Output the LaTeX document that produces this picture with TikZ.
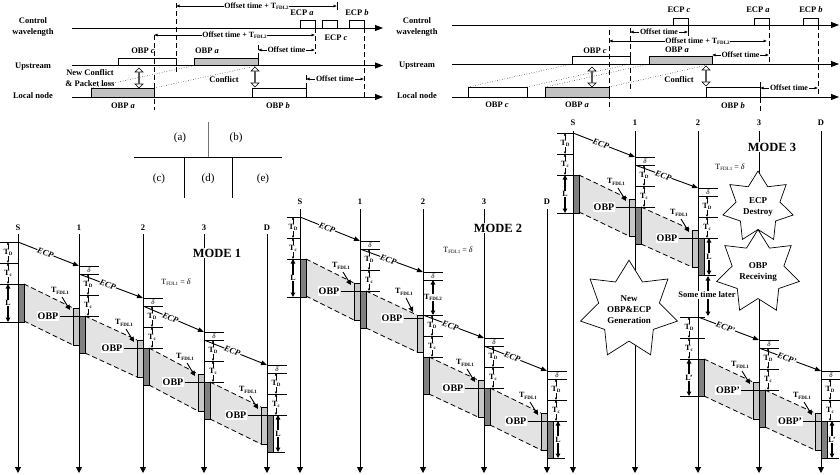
\documentclass[tikz,border=0pt]{standalone}
\usepackage{fontspec}
\setmainfont{Liberation Serif}
\usetikzlibrary{arrows.meta,shapes.geometric,shapes.arrows}
\definecolor{dkg}{gray}{0.5}
\definecolor{ltg}{gray}{0.78}
\definecolor{shdc}{gray}{0.89}
\definecolor{obpg}{gray}{0.76}
\definecolor{layg}{gray}{0.45}
\newcommand\fs[1]{\fontsize{#1}{#1}\selectfont}
\newcommand\Tsub[1]{T\raisebox{-0.35ex}{\fontsize{5}{5}\selectfont #1}}
\tikzset{
  lw/.style={line width=0.8pt},
  ax/.style={line width=0.9pt,-{Triangle[length=8pt,width=6pt]}},
  colar/.style={line width=0.9pt,-{Triangle[length=6pt,width=6pt]}},
  dsh/.style={line width=0.8pt,dash pattern=on 5pt off 3pt},
  tk/.style={line width=0.8pt},
  sml/.style={line width=0.5pt,{Latex[length=2.5pt,width=2.5pt]}-{Latex[length=2.5pt,width=2.5pt]}},
  bigar/.style={line width=1.2pt,{Triangle[length=4.5pt,width=4.5pt]}-{Triangle[length=4.5pt,width=4.5pt]}},
  onear/.style={line width=1.2pt,-{Triangle[length=4.5pt,width=4.5pt]}},
  slab/.style={fill=white,inner sep=0.4pt,font=\bfseries\fs{8}},
  dlab/.style={inner sep=0pt,font=\itshape\fs{7}},
  ecpar/.style={line width=0.9pt,-{Triangle[length=6pt,width=4.5pt]}},
  ecplab/.style={fill=white,inner sep=0.3pt,font=\bfseries\itshape\fs{8.5}},
  darkr/.style={fill=dkg,draw,line width=0.6pt},
  lightr/.style={fill=ltg,draw,line width=0.6pt},
  obplab/.style={fill=white,inner sep=1.2pt,font=\bfseries\fs{10}},
  fdllab/.style={inner sep=0.5pt,font=\bfseries\fs{8}},
  fdlar/.style={line width=0.9pt,-{Triangle[length=5pt,width=5pt]}},
  collab/.style={font=\bfseries\fs{8.5}},
  modelab/.style={fill=white,inner sep=1pt,font=\bfseries\fs{12.5}},
  eqlab/.style={inner sep=0.5pt,font=\fs{8}},
  dbl/.style={double arrow,shape border rotate=90,draw,fill=white,line width=0.6pt,minimum height=20pt,minimum width=8pt,double arrow head extend=1.5pt,inner sep=0pt},
  starn/.style={star,star points=7,star point ratio=1.6,draw,fill=white,line width=0.7pt,inner sep=0pt,align=center,font=\bfseries\fontsize{9}{11}\selectfont},
  toplab/.style={font=\bfseries\fontsize{8.5}{11}\selectfont,align=center,inner sep=0pt},
  offlab/.style={fill=white,inner sep=0.8pt,font=\bfseries\fs{8}},
  offar/.style={line width=0.6pt,{Latex[length=3.5pt,width=3pt]}-{Latex[length=3.5pt,width=3pt]}},
  layl/.style={font=\fs{11}},
}
\newcommand\tspan[4]{\draw[sml] ({#1},{#2}) -- ({#1},{#3}); \node[slab] at ({#1},{(#2+#3)/2}) {#4};}
\newcommand\lspan[4]{\draw[bigar] ({#1},{#2}) -- ({#1},{#3}); \node[slab] at ({#1},{(#2+#3)/2}) {#4};}
\newcommand\Scol[4]{%
  \foreach \dy in {0,21,42,80} {\draw[tk] ({#3},{#2+\dy}) -- ({#1},{#2+\dy});}
  \tspan{#4}{#2}{#2+21}{\Tsub{D}}
  \tspan{#4}{#2+21}{#2+42}{\Tsub{c}}
  \lspan{#4}{#2+42}{#2+80}{L}
  \filldraw[darkr] ({#1},{#2+42}) rectangle ({#1+6},{#2+80});
}
\newcommand\stdcol[3]{%
  \foreach \dy in {0,8,29} {\draw[tk] ({#1},{#2+\dy}) -- ({#1+20},{#2+\dy});}
  \node[dlab] at ({#1+10},{#2+4}) {δ};
  \tspan{#1+9}{#2+8}{#2+29}{\Tsub{D}}
  \tspan{#1+9}{#2+29}{#2+50}{\Tsub{c}}
  \filldraw[lightr] ({#1-6},{#2+42}) rectangle ({#1},{#2+79});
  \filldraw[darkr] ({#1},{#2+50}) rectangle ({#1+6},{#2+87});
  \node[obplab] (o) at ({#1-31},{#2+50}) {#3};
  \draw[tk] (o.east) -- ({#1+20},{#2+50});
  \node[fdllab] at ({#1-19},{#2+25}) {\Tsub{FDL1}};
  \draw[fdlar] ({#1-17},{#2+31}) -- ({#1-9},{#2+44});
}
\newcommand\Dcol[4]{%
  \stdcol{#1}{#2}{#3}
  \draw[tk] ({#1},{#2+87}) -- ({#1+18},{#2+87});
  \lspan{#1+11}{#2+50}{#2+87}{#4}
}
\newcommand\shadeseg[4]{%
  \fill[shdc] ({#1+6},{#2}) -- ({#3-6},{#4}) -- ({#3-6},{#4+37}) -- ({#1+6},{#2+37}) -- cycle;
  \draw[dsh] ({#1+6},{#2}) -- ({#3-6},{#4});
  \draw[dsh] ({#1+6},{#2+37}) -- ({#3-6},{#4+37});
}
\newcommand\ecp[5]{\draw[ecpar] ({#1},{#2}) -- node[ecplab,sloped,pos=0.45]{#5} ({#3},{#4});}
\begin{document}
\begin{tikzpicture}[x=1pt,y=-1pt]
\useasboundingbox (0,0) rectangle (840,474);
% ================= top-left panel (a) =================
\node[toplab] (lcw) at (33,27) {Control\\wavelength};
\node[toplab] (lup) at (33,67) {Upstream};
\node[toplab] (lln) at (33,96) {Local node};
\draw[ax] (72,28) -- (383,28);
\draw[ax] (72,65.5) -- (383,65.5);
\draw[ax] (72,97) -- (383,97);
\draw[dotted,line width=0.5pt] (91,88) -- (194,65.5);
\draw[dotted,line width=0.5pt] (154,88) -- (258,65.5);
\draw[lw,fill=white] (118,58) rectangle (176,65.5);
\draw[lw,fill=obpg] (194,58) rectangle (258,65.5);
\draw[lw,fill=obpg] (91,88) rectangle (154,97);
\draw[lw,fill=white] (252,88) rectangle (306,97);
\node[toplab] at (143,51) {OBP \textit{c}};
\node[toplab] at (207,51) {OBP \textit{a}};
\node[toplab] at (123,106) {OBP \textit{a}};
\node[toplab] at (278,106) {OBP \textit{b}};
\draw[lw] (300,20) rectangle (315,28);
\draw[lw] (322,20) rectangle (337,28);
\draw[lw] (349,20) rectangle (364,28);
\node[toplab] at (302,13) {ECP \textit{a}};
\node[toplab] at (336,38) {ECP \textit{c}};
\node[toplab] at (357,13) {ECP \textit{b}};
\draw[dsh] (154,35) -- (154,110);
\draw[dsh] (176,3) -- (176,72);
\draw[dsh] (258,45) -- (258,66);
\draw[dsh] (315,28) -- (315,54);
\draw[dsh] (364,28) -- (364,100);
\draw[tk] (337,2) -- (337,10);
\draw[dsh] (306,75) -- (306,88);
\draw[offar] (176,6) -- node[offlab]{Offset time + \Tsub{FDL2}} (337,6);
\draw[offar] (154,35) -- node[offlab]{Offset time + \Tsub{FDL2}} (315,35);
\draw[offar] (258,50) -- node[offlab]{Offset time} (315,50);
\draw[offar] (306,79) -- node[offlab]{Offset time} (364,79);
\node[dbl] at (139,78) {};
\node[dbl] at (255,77) {};
\node[toplab] at (90,73) {New Conflict};
\node[toplab] at (90,84) {\& Packet loss};
\node[toplab] at (224,80) {Conflict};
% ================= top-right panel (b) =================
\node[toplab] (rcw) at (417,27) {Control\\wavelength};
\node[toplab] (rup) at (417,66) {Upstream};
\node[toplab] (rln) at (417,96) {Local node};
\draw[ax] (452,25) -- (839,25);
\draw[ax] (452,64) -- (839,64);
\draw[ax] (452,97) -- (839,97);
\draw[dotted,line width=0.5pt] (468,87) -- (572,64);
\draw[dotted,line width=0.5pt] (527,87) -- (630,64);
\draw[dotted,line width=0.5pt] (545,87) -- (649,64);
\draw[dotted,line width=0.5pt] (609,87) -- (712,64);
\draw[lw,fill=white] (572,56) rectangle (630,64);
\draw[lw,fill=obpg] (649,56) rectangle (712,64);
\draw[lw,fill=white] (468,87) rectangle (527,97);
\draw[lw,fill=obpg] (545,87) rectangle (609,97);
\draw[lw,fill=white] (706,87) rectangle (760,97);
\node[toplab] at (595,51) {OBP \textit{c}};
\node[toplab] at (677,50) {OBP \textit{a}};
\node[toplab] at (497,105) {OBP \textit{c}};
\node[toplab] at (577,105) {OBP \textit{a}};
\node[toplab] at (733,106) {OBP \textit{b}};
\draw[lw] (673,18) rectangle (688,25);
\draw[lw] (754,18) rectangle (769,25);
\draw[lw] (803,18) rectangle (818,25);
\node[toplab] at (679,10) {ECP \textit{c}};
\node[toplab] at (758,10) {ECP \textit{a}};
\node[toplab] at (811,10) {ECP \textit{b}};
\draw[dsh] (609,30) -- (609,110);
\draw[dsh] (630,28) -- (630,92);
\draw[tk] (688,25) -- (688,36);
\draw[dsh] (769,25) -- (769,64);
\draw[dsh] (818,25) -- (818,97);
\draw[dsh] (760,82) -- (760,112);
\draw[offar] (630,32) -- node[offlab]{Offset time} (688,32);
\draw[offar] (609,41) -- node[offlab,pos=0.56]{Offset time + \Tsub{FDL2}} (767,41);
\draw[offar] (712,55) -- node[offlab]{Offset time} (769,55);
\draw[offar] (760,88) -- node[offlab]{Offset time} (818,88);
\node[dbl] at (592,77) {};
\node[dbl] at (706,76) {};
\node[toplab] at (679,80) {Conflict};
% ================= layout key =================
\draw[line width=1pt,layg] (208,122) -- (208,157);
\draw[line width=0.9pt] (134,157) -- (282,157);
\draw[line width=0.9pt] (184,157) -- (184,198);
\draw[line width=0.9pt] (232,157) -- (232,198);
\node[layl] at (180,138) {(a)};
\node[layl] at (236,138) {(b)};
\node[layl] at (159,179) {(c)};
\node[layl] at (208,179) {(d)};
\node[layl] at (263,179) {(e)};
% ================= MODE 1 =================
\foreach \x/\l in {18/S,79/1,143/2,204/3,267/D}{\node[collab] at (\x,228) {\l}; \draw[colar] (\x,234) -- (\x,473);}
\shadeseg{18}{284}{79}{308}
\shadeseg{79}{316}{143}{340}
\shadeseg{143}{348}{204}{374}
\shadeseg{204}{382}{267}{407}
\Scol{18}{242}{0}{8}
\stdcol{79}{266}{OBP}
\stdcol{143}{298}{OBP}
\stdcol{204}{332}{OBP}
\Dcol{267}{365}{OBP}{L}
\ecp{18}{242}{79}{266}{ECP}
\ecp{79}{274}{143}{298}{ECP}
\ecp{143}{306}{204}{332}{ECP}
\ecp{204}{340}{267}{365}{ECP}
\node[modelab] at (217,253) {MODE 1};
\node[eqlab] at (176,282) {\Tsub{FDL1} = \textit{δ}};
% ================= MODE 2 =================
\foreach \x/\l in {300/S,360/1,423/2,484/3,547/D}{\node[collab] at (\x,202) {\l}; \draw[colar] (\x,209) -- (\x,473);}
\shadeseg{300}{259}{360}{283}
\shadeseg{360}{291}{423}{315}
\shadeseg{423}{357}{484}{380}
\shadeseg{484}{388}{547}{413}
\Scol{300}{217}{287}{293}
\stdcol{360}{241}{OBP}
% special column 2
\foreach \yy in {272,280,315,336,357} {\draw[tk] (423,\yy) -- (443,\yy);}
\node[dlab] at (433,276) {δ};
\lspan{433}{280}{315}{\Tsub{FDL2}}
\tspan{432}{315}{336}{\Tsub{D}}
\tspan{432}{336}{357}{\Tsub{c}}
\filldraw[lightr] (417,315) rectangle (423,352);
\filldraw[darkr] (423,357) rectangle (429,394);
\node[obplab] (o2) at (392,318) {OBP};
\draw[tk] (o2.east) -- (423,318);
\node[fdllab] at (404,292) {\Tsub{FDL1}};
\draw[fdlar] (406,298) -- (413,312);
\stdcol{484}{338}{OBP}
\Dcol{547}{371}{OBP}{L}
\ecp{300}{217}{360}{241}{ECP}
\ecp{360}{249}{423}{272}{ECP}
\ecp{423}{315}{484}{338}{ECP}
\ecp{484}{346}{547}{371}{ECP}
\node[modelab] at (498,228) {MODE 2};
\node[eqlab] at (458,250) {\Tsub{FDL1} = \textit{δ}};
% ================= MODE 3 =================
\foreach \x/\l in {573/S,635/1,698/2,759/3,821/D}{\node[collab] at (\x,123) {\l}; \draw[colar] (\x,131) -- (\x,473);}
\shadeseg{573}{175}{635}{199}
\shadeseg{635}{207}{698}{230}
\shadeseg{698}{359}{759}{382}
\shadeseg{759}{390}{821}{413}
\Scol{573}{133}{557}{565}
\stdcol{635}{157}{OBP}
\Dcol{698}{188}{OBP}{L}
\ecp{573}{133}{635}{157}{ECP}
\ecp{635}{165}{698}{188}{ECP}
% second phase
\foreach \yy in {317,338,359,396} {\draw[tk] (680,\yy) -- (705,\yy);}
\tspan{689}{317}{338}{\Tsub{D}}
\tspan{689}{338}{359}{\Tsub{c}}
\lspan{689}{359}{396}{L'}
\filldraw[darkr] (698,359) rectangle (704,396);
\stdcol{759}{340}{OBP'}
\Dcol{821}{371}{OBP'}{L'}
\ecp{698}{317}{759}{340}{ECP'}
\ecp{759}{348}{821}{371}{ECP'}
\node[modelab] at (772,147) {MODE 3};
\node[eqlab] at (730,167) {\Tsub{FDL1} = \textit{δ}};
\node[starn,minimum size=72pt] (destroy) at (758,207) {ECP\\Destroy};
\node[starn,minimum size=68pt] (recv) at (758,272) {OBP\\Receiving};
\node[starn,minimum size=88pt] (gen) at (629,310) {New\\OBP\&ECP\\Generation};
\node[font=\bfseries\fs{8.5},fill=white,inner sep=1pt] (stl) at (707,295) {Some time later};
\draw[onear] (stl.north -| 708,0) -- (708,276);
\draw[onear] (stl.south -| 708,0) -- (708,316);
\end{tikzpicture}
\end{document}
